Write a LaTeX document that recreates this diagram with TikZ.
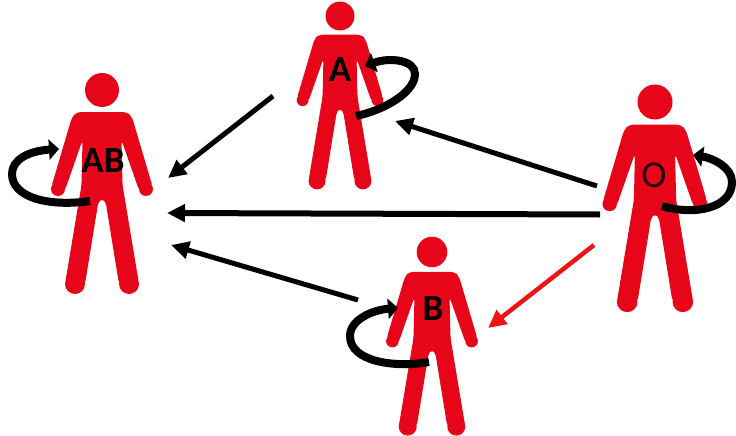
\documentclass[tikz,border=0pt]{standalone}
\usepackage{fontspec}
\setmainfont{Carlito}
\usetikzlibrary{arrows.meta}
\definecolor{figred}{RGB}{230,5,25}
\definecolor{arrred}{RGB}{236,20,20}
\tikzset{
  conn/.style={line width=5pt,black,-{Triangle[length=18pt,width=17pt]}},
  connred/.style={conn,arrred,line width=4.5pt},
  loopy/.style={line width=8pt,black,-{Triangle[length=10pt,width=20pt]}},
  boldlabel/.style={font=\fontsize{37}{37}\selectfont\bfseries,text=black,inner sep=0pt},
  thinlabel/.style={font=\fontsize{38}{38}\selectfont,text=black,inner sep=0pt,opacity=.85},
}
\newcommand{\personfig}[3]{%
  \begin{scope}[shift={(#1,#2)},scale=#3]
    \fill[figred] (0,0) circle (17);
    \fill[figred] (-44,99) circle (7) (44,99) circle (7) (-27,194) circle (10) (27,194) circle (10);
    \fill[figred,rounded corners=4pt]
      (-25,22) -- (25,22) -- (30,27) -- (50.7,97) -- (44,99) -- (37.3,101) -- (19.5,50)
      -- (20.5,95) -- (37,194) -- (27,197) -- (17,194) -- (3.5,111) -- (0,109) -- (-3.5,111)
      -- (-17,194) -- (-27,197) -- (-37,194) -- (-20.5,95) -- (-19.5,50)
      -- (-37.3,101) -- (-44,99) -- (-50.7,97) -- (-30,27) -- cycle;
  \end{scope}}
\begin{document}
\begin{tikzpicture}[x=1pt,y=-1pt]
\useasboundingbox (0,0) rectangle (736,436);
\fill[white] (0,0) rectangle (736,436);
\personfig{102}{90}{1}
\personfig{340}{16}{.85}
\personfig{655}{102}{1.03}
\personfig{432}{252}{.9}
% labels
\node[boldlabel] (labAB) at (103,161) {AB};
\node[boldlabel] (labA) at (340,70) {A};
\node[thinlabel] (labO) at (654,175) {O};
\node[boldlabel] (labB) at (433,309) {B};
% connector ends
\coordinate (aout) at (273,96);
\coordinate (abinA) at (168,178);
\coordinate (oa) at (597,186);
\coordinate (ainO) at (395,121);
\coordinate (oab) at (600,214.5);
\coordinate (abinO) at (167,213);
\coordinate (bab) at (358,300);
\coordinate (abinB) at (171,245);
\coordinate (ob) at (594,245);
\coordinate (binO) at (488,328);
\draw[conn] (aout) -- (abinA);
\draw[conn] (oa) -- (ainO);
\draw[conn,line width=6pt] (oab) -- (abinO);
\draw[conn] (bab) -- (abinB);
\draw[connred] (ob) -- (binO);
% self loops
\coordinate (abt) at (90,201);
\coordinate (abh) at (59,149);
\draw[loopy] (abt) .. controls (50,207) and (12,198) .. (12,174) .. controls (12,160) and (28,151) .. (abh);
\coordinate (at) at (356,116);
\coordinate (ah) at (365,66);
\draw[loopy] (at) .. controls (385,110) and (415,92) .. (415,74) .. controls (415,60) and (390,57) .. (ah);
\coordinate (ot) at (662,206);
\coordinate (oh) at (693,155);
\draw[loopy] (ot) .. controls (695,216) and (732,208) .. (732,182) .. controls (732,167) and (712,158) .. (oh);
\coordinate (bt) at (429,362);
\coordinate (bh) at (398,308);
\draw[loopy] (bt) .. controls (395,368) and (350,362) .. (350,336) .. controls (350,320) and (372,310) .. (bh);
\end{tikzpicture}
\end{document}
